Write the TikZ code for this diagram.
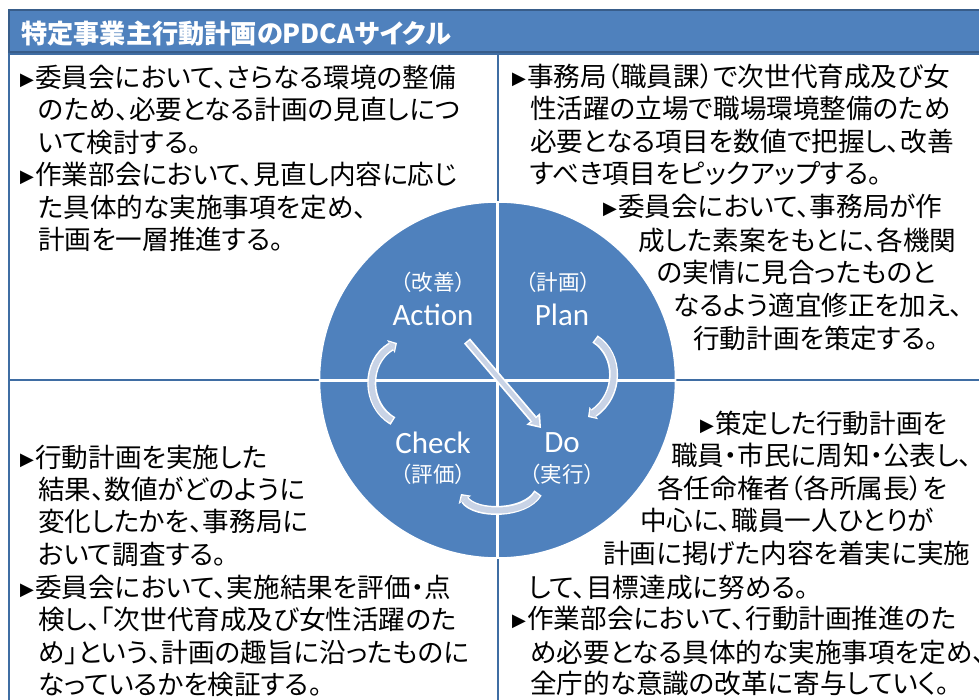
\documentclass[tikz,border=0pt]{standalone}
\usepackage{fontspec}
\setmainfont[RawFeature=+palt]{Noto Sans CJK JP}
\newfontfamily\jpw{Noto Sans CJK JP}
\newfontfamily\lat{Carlito}
\newfontfamily\djv{DejaVu Sans}
\usetikzlibrary{arrows.meta}
\definecolor{pdcablue}{HTML}{4F81BD}
\definecolor{framec}{HTML}{3F6DA3}
\definecolor{barline}{HTML}{385D8A}
\definecolor{arrowfill}{HTML}{C8D3E6}
\newcommand\tri{\makebox[15pt][l]{\raisebox{2pt}{\djv\fontsize{18}{18}\selectfont ▶}}}
\tikzset{
  ln/.style={anchor=base west, inner sep=0pt, font=\fontsize{26.6}{26.6}\selectfont},
  quad/.style={draw=framec, line width=2.5pt},
  lbl/.style={text=white, inner sep=0pt},
  jpl/.style={lbl, font=\jpw\fontsize{21.5}{21.5}\selectfont},
  enl/.style={lbl, font=\lat\fontsize{31}{31}\selectfont},
  arcout/.style={draw=white, line width=9pt, -{Triangle[length=7pt,width=15pt,line width=0pt]}},
  arcin/.style={draw=arrowfill, line width=6pt, shorten <=1.5pt, shorten >=2pt, -{Triangle[length=4.5pt,width=10.5pt,line width=0pt]}},
  diagout/.style={draw=white, line width=8pt, -{Triangle[length=12pt,width=18pt,line width=0pt]}},
  diagin/.style={draw=arrowfill, line width=4.5pt, shorten <=1.5pt, shorten >=2.5pt, -{Triangle[length=8pt,width=11pt,line width=0pt]}}
}
\begin{document}
\begin{tikzpicture}[x=1pt,y=-1pt]
\path[use as bounding box] (0,0) rectangle (979,700);
\clip (0,0) rectangle (979,700);
\fill[white] (0,0) rectangle (979,700);

% title bar
\draw[fill=pdcablue, draw=barline, line width=1.5pt] (9,10) rectangle (995,52);
\node[anchor=base west, inner sep=0pt, text=white, font=\bfseries\fontsize{26.2}{26.2}\selectfont] (title) at (21,44) {特定事業主行動計画のPDCAサイクル};

% quadrant frames
\draw[quad] (9,54) rectangle (498,380);
\draw[quad] (498,54) rectangle (995,380);
\draw[quad] (9,380) rectangle (498,710);
\draw[quad] (498,380) rectangle (995,710);

% circle
\node[circle, fill=pdcablue, draw=white, line width=1.5pt, minimum size=356pt, inner sep=0pt] (cyc) at (497.5,380) {};
\draw[white, line width=3pt] (cyc.north) -- (cyc.south);
\draw[white, line width=3pt] (cyc.west) -- (cyc.east);

% circle labels
\node[jpl] (actj) at (433,282) {（改善）};
\node[enl] (act) at (433,315) {Action};
\node[jpl] (planj) at (558,282) {（計画）};
\node[enl] (plan) at (562,315) {Plan};
\node[enl] (chk) at (433,443) {Check};
\node[jpl] (chkj) at (433,474) {（評価）};
\node[enl] (do) at (562,443) {Do};
\node[jpl] (doj) at (562,474) {（実行）};

% arrows
\coordinate (ra1) at (595,339); \coordinate (ra2) at (588,417);
\draw[arcout] (ra1) .. controls (620,355) and (620,395) .. (ra2);
\draw[arcin] (ra1) .. controls (620,355) and (620,395) .. (ra2);
\coordinate (la1) at (393,421); \coordinate (la2) at (397,343);
\draw[arcout] (la1) .. controls (365,405) and (365,362) .. (la2);
\draw[arcin] (la1) .. controls (365,405) and (365,362) .. (la2);
\coordinate (ba1) at (538,493); \coordinate (ba2) at (461,494);
\draw[arcout] (ba1) .. controls (525,515) and (475,515) .. (ba2);
\draw[arcin] (ba1) .. controls (525,515) and (475,515) .. (ba2);
\coordinate (da1) at (467,341); \coordinate (da2) at (541,428);
\draw[diagout] (da1) -- (da2);
\draw[diagin] (da1) -- (da2);

% top-left text
\node[ln] (tl1) at (20,88) {\tri 委員会において、さらなる環境の整備};
\node[ln] (tl2) at (38,120) {のため、必要となる計画の見直しにつ};
\node[ln] (tl3) at (38,153) {いて検討する。};
\node[ln] (tl4) at (20,185) {\tri 作業部会において、見直し内容に応じ};
\node[ln] (tl5) at (38,218) {た具体的な実施事項を定め、};
\node[ln] (tl6) at (38,250) {計画を一層推進する。};

% top-right text
\node[ln] (tr1) at (512,87) {\tri 事務局（職員課）で次世代育成及び女};
\node[ln] (tr2) at (530,119) {性活躍の立場で職場環境整備のため};
\node[ln] (tr3) at (530,152) {必要となる項目を数値で把握し、改善};
\node[ln] (tr4) at (530,184) {すべき項目をピックアップする。};
\node[ln] (tr5) at (603,217) {\tri 委員会において、事務局が作};
\node[ln] (tr6) at (638,251) {成した素案をもとに、各機関};
\node[ln] (tr7) at (657,283) {の実情に見合ったものと};
\node[ln] (tr8) at (673,316) {なるよう適宜修正を加え、};
\node[ln] (tr9) at (693,348) {行動計画を策定する。};

% bottom-left text
\node[ln] (bl1) at (20,467) {\tri 行動計画を実施した};
\node[ln] (bl2) at (38,499) {結果、数値がどのように};
\node[ln] (bl3) at (38,531) {変化したかを、事務局に};
\node[ln] (bl4) at (38,564) {おいて調査する。};
\node[ln] (bl5) at (20,597) {\tri 委員会において、実施結果を評価・点};
\node[ln] (bl6) at (38,629) {検し、「次世代育成及び女性活躍のた};
\node[ln] (bl7) at (38,662) {め」という、計画の趣旨に沿ったものに};
\node[ln] (bl8) at (38,694) {なっているかを検証する。};

% bottom-right text
\node[ln] (br1) at (700,433) {\tri 策定した行動計画を};
\node[ln] (br2) at (671,465) {職員・市民に周知・公表し、};
\node[ln] (br3) at (657,498) {各任命権者（各所属長）を};
\node[ln] (br4) at (640,530) {中心に、職員一人ひとりが};
\node[ln] (br5) at (603,563) {計画に掲げた内容を着実に実施};
\node[ln] (br6) at (528,597) {して、目標達成に努める。};
\node[ln] (br7) at (512,628) {\tri 作業部会において、行動計画推進のた};
\node[ln] (br8) at (530,662) {め必要となる具体的な実施事項を定め、};
\node[ln] (br9) at (530,693) {全庁的な意識の改革に寄与していく。};
\end{tikzpicture}
\end{document}
